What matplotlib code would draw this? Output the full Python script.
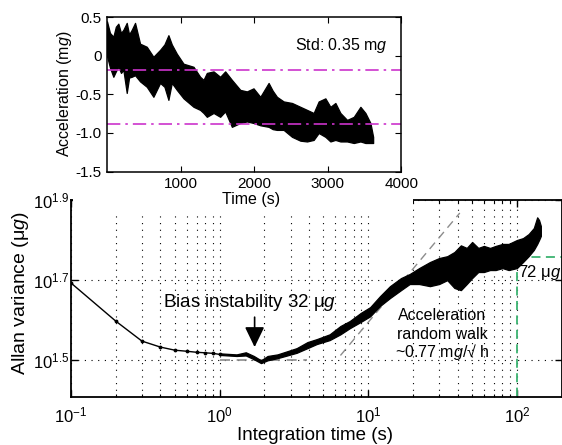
import numpy as np
import matplotlib
matplotlib.use("Agg")
import matplotlib.pyplot as plt
from matplotlib.ticker import FixedLocator, FixedFormatter, NullLocator, LogLocator, NullFormatter
from matplotlib.patches import Rectangle

plt.rcParams['font.family'] = ['Liberation Sans', 'DejaVu Sans']
plt.rcParams['mathtext.fontset'] = 'custom'
plt.rcParams['mathtext.rm'] = 'Liberation Sans'
plt.rcParams['mathtext.it'] = 'Liberation Sans:italic'
plt.rcParams['mathtext.bf'] = 'Liberation Sans:bold'

# ---------------- data: acceleration time series (envelope) ----------------
time_s = [0, 40, 86, 120, 154, 190, 222, 268, 300, 336, 381, 449, 540, 630, 721, 780, 834, 880,
          948, 1039, 1175, 1265, 1311, 1356, 1447, 1537, 1605, 1696, 1810, 1900, 1990, 2082,
          2195, 2250, 2308, 2399, 2513, 2626, 2717, 2807, 2875, 2966, 3034, 3102, 3170, 3261,
          3352, 3442, 3510, 3578, 3615]
accel_hi = [0.45, 0.30, 0.25, 0.38, 0.42, 0.30, 0.34, 0.43, 0.28, 0.34, 0.43, 0.16, 0.12, -0.01,
            0.08, 0.15, 0.27, 0.15, 0.03, -0.10, -0.14, -0.27, -0.31, -0.22, -0.20, -0.27, -0.20,
            -0.31, -0.44, -0.46, -0.42, -0.53, -0.35, -0.45, -0.53, -0.59, -0.61, -0.66, -0.70,
            -0.74, -0.59, -0.55, -0.66, -0.61, -0.74, -0.83, -0.79, -0.66, -0.74, -0.87, -1.05]
accel_lo = [0.0, -0.15, -0.27, -0.20, -0.14, -0.22, -0.18, -0.48, -0.28, -0.27, -0.25, -0.33,
            -0.40, -0.53, -0.35, -0.40, -0.57, -0.35, -0.44, -0.55, -0.66, -0.70, -0.74, -0.79,
            -0.74, -0.79, -0.72, -0.92, -0.87, -0.85, -0.87, -0.90, -0.92, -0.95, -0.96, -0.96,
            -1.05, -1.10, -1.11, -1.09, -1.00, -1.05, -1.11, -1.09, -1.11, -1.11, -1.13, -1.11,
            -1.13, -1.13, -1.13]
std_lines = [-0.18, -0.88]   # mean +/- std

# ---------------- data: Allan deviation ----------------
tau_smooth = [0.1, 0.2, 0.3, 0.4, 0.5, 0.6, 0.7, 0.8, 0.9, 1.0]
adev_smooth = [49.3, 39.6, 35.3, 34.1, 33.5, 33.3, 33.1, 33.0, 32.9, 32.7]
tau_noisy = [1.0, 1.3, 1.5, 1.7, 1.9, 2.1, 2.45, 2.85, 3.3, 3.9, 4.5, 5.5, 6.5, 7.5, 8.9, 10.3,
             12, 14, 16.6, 19, 22, 26, 30, 34, 38, 42, 46, 50, 55, 60, 66, 72, 80, 88, 100,
             110, 120, 130, 137, 141, 145]
adev_lo = [32.6, 32.4, 32.5, 31.8, 31.1, 31.6, 32.0, 32.5, 33.0, 33.9, 34.7, 35.5, 36.7, 38.0,
           39.4, 40.7, 43.2, 45.2, 47.3, 49.0, 49.0, 48.4, 49.0, 50.1, 47.9, 47.3, 49.0, 50.7,
           52.5, 52.5, 53.1, 53.1, 53.7, 53.1, 53.7, 55.6, 57.5, 59.6, 61.7, 63.1, 64.6]
adev_hi = [32.9, 32.7, 33.1, 32.4, 31.6, 32.4, 32.7, 33.3, 33.9, 35.1, 35.7, 36.7, 38.5, 39.6,
           41.5, 42.9, 45.7, 48.4, 50.7, 51.9, 53.7, 55.6, 56.9, 57.5, 58.9, 61.2, 60.3, 62.4,
           60.3, 61.0, 60.3, 61.0, 61.7, 61.7, 63.1, 63.8, 65.3, 67.6, 71.9, 70.8, 68.4]
bias_line_tau = [1.0, 3.9]
bias_level = 31.6
rw_line_tau = [6.5, 41.3]
rw_line_adev = [32.5, 73.7]
marker_tau = 100
marker_adev = 57.2

fig = plt.figure(figsize=(5.62, 4.45), dpi=100)

# ---------------- bottom: Allan deviation ----------------
ax2 = fig.add_axes([0.1263, 0.1079, 0.8730, 0.4427])
ax2.set_zorder(0)
ax2.set_xscale('log')
ax2.set_yscale('log')
ax2.set_xlim(0.1, 200)
ax2.set_ylim(25.6, 10**1.9)

ax2.plot(tau_smooth, adev_smooth, color='k', lw=1.0, marker='.', ms=3.5, zorder=3)
ax2.fill_between(tau_noisy, adev_lo, adev_hi, facecolor='k', edgecolor='k', lw=0.9, zorder=3)
ax2.plot(bias_line_tau, [bias_level, bias_level], color='#8c8c8c', lw=1.2, dashes=(6, 4), zorder=2)
ax2.plot(rw_line_tau, rw_line_adev, color='#8c8c8c', lw=1.0, dashes=(6, 4), zorder=2)
ax2.plot([marker_tau, marker_tau], [20, marker_adev], color='#3cb371', lw=1.3, dashes=(5, 3), zorder=2)
ax2.plot([marker_tau, 300], [marker_adev, marker_adev], color='#3cb371', lw=1.3, dashes=(5, 3), zorder=2)

ax2.xaxis.set_major_locator(FixedLocator([0.1, 1, 10, 100]))
ax2.xaxis.set_major_formatter(FixedFormatter([r'$10^{-1}$', r'$10^{0}$', r'$10^{1}$', r'$10^{2}$']))
ax2.xaxis.set_minor_locator(LogLocator(base=10, subs=np.arange(2, 10)))
ax2.xaxis.set_minor_formatter(NullFormatter())
ax2.yaxis.set_major_locator(FixedLocator([10**1.5, 10**1.7, 10**1.9]))
ax2.yaxis.set_major_formatter(FixedFormatter([r'$10^{1.5}$', r'$10^{1.7}$', r'$10^{1.9}$']))
ax2.yaxis.set_minor_locator(NullLocator())
ax2.grid(True, which='both', axis='x', color='k', lw=0.8, linestyle=(0, (1, 5)))
ax2.grid(True, which='major', axis='y', color='k', lw=0.8, linestyle=(0, (1, 5)))
ax2.tick_params(which='both', direction='in', top=True, right=True, labelsize=12)
ax2.tick_params(which='major', length=5, width=1)
ax2.tick_params(which='minor', length=2.5, width=0.8)
ax2.tick_params(axis='y', pad=1)
ax2.tick_params(axis='x', pad=6)
for s in ax2.spines.values():
    s.set_linewidth(1.3)

ax2.set_xlabel('Integration time (s)', fontsize=13.5)
ax2.xaxis.set_label_coords(0.498, -0.193)
ax2.xaxis.label.set_va('center')
ax2.set_ylabel(r'Allan variance (μ$\mathit{g}$)', fontsize=14)
ax2.yaxis.set_label_coords(-0.103, 0.525)
ax2.yaxis.label.set_va('center')

ax2.text(1.58, 42.9, r'Bias instability 32 μ$\mathit{g}$', fontsize=13.5, ha='center', va='baseline')
ax2.annotate('', xy=(1.72, 34.1), xytext=(1.72, 40.5),
             arrowprops=dict(arrowstyle='-|>,head_length=0.62,head_width=0.3', mutation_scale=20,
                             color='k', lw=1.2, shrinkA=0, shrinkB=0))
ax2.text(31.3, 39.8, 'Acceleration', fontsize=11.5, ha='center', va='baseline')
ax2.text(31.3, 35.7, 'random walk', fontsize=11.5, ha='center', va='baseline')
ax2.text(31.3, 32.2, r'~0.77 m$\mathit{g}$/√ h', fontsize=11.5, ha='center', va='baseline')
ax2.text(102, 51.1, r'72 μ$\mathit{g}$', fontsize=12, ha='left', va='baseline')

# white cover (top panel's backdrop)
fig.patches.append(Rectangle((0.130, 0.5258), (413 - 73) / 562, 0.48, transform=fig.transFigure,
                             facecolor='white', edgecolor='none', zorder=1))

# ---------------- top: acceleration ----------------
ax1 = fig.add_axes([0.1904, 0.6146, 0.5240, 0.3461])
ax1.set_zorder(2)
ax1.fill_between(time_s, accel_lo, accel_hi, facecolor='k', edgecolor='k', lw=0.9)
for v in std_lines:
    ax1.axhline(v, color='#cc33cc', lw=1.2, linestyle=(0, (8, 3, 1.5, 3)))
ax1.set_xlim(0, 4000)
ax1.set_ylim(-1.5, 0.5)
ax1.set_xticks([1000, 2000, 3000, 4000])
ax1.set_yticks([-1.5, -1.0, -0.5, 0, 0.5])
ax1.set_yticklabels(['-1.5', '-1.0', '-0.5', '0', '0.5'])
ax1.tick_params(direction='in', top=True, right=True, labelsize=11, length=4, pad=4)
for s in ax1.spines.values():
    s.set_linewidth(1.1)
ax1.set_xlabel('Time (s)', fontsize=11.5)
ax1.xaxis.set_label_coords(0.489, -0.185)
ax1.xaxis.label.set_va('center')
ax1.set_ylabel(r'Acceleration (m$\mathit{g}$)', fontsize=11.5)
ax1.yaxis.set_label_coords(-0.146, 0.506)
ax1.yaxis.label.set_va('center')
ax1.text(2558, 0.078, r'Std: 0.35 m$\mathit{g}$', fontsize=11.5, ha='left', va='baseline')

fig.savefig('out.png', dpi=100)
